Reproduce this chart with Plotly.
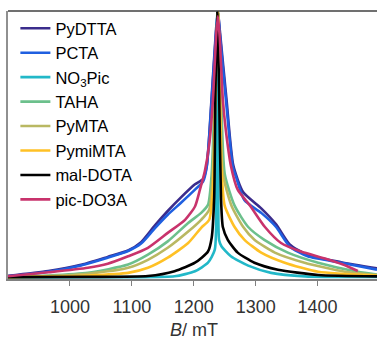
import plotly.graph_objects as go

names = ["PyDTTA", "PCTA", "NO<sub>3</sub>Pic", "TAHA", "PyMTA", "PymiMTA", "mal-DOTA", "pic-DO3A"]
colors = ["#3b2c8c", "#1f5fe0", "#22b8c8", "#6cc08c", "#b9b862", "#ffc125", "#000000", "#c8336c"]

pydtta_B = [900, 965, 1016, 1061, 1094, 1115, 1137, 1158, 1179, 1202, 1215, 1221, 1229, 1236, 1239, 1242, 1253, 1264, 1280, 1309, 1333, 1355, 1384, 1438, 1496]
pydtta_I = [0.007, 0.025, 0.047, 0.078, 0.102, 0.133, 0.195, 0.250, 0.300, 0.350, 0.370, 0.420, 0.680, 0.930, 1.000, 0.930, 0.667, 0.420, 0.320, 0.260, 0.200, 0.125, 0.085, 0.058, 0.035]

pcta_B = [900, 965, 1016, 1061, 1094, 1115, 1137, 1158, 1179, 1202, 1215, 1221, 1229, 1236, 1239, 1242, 1252, 1263, 1268, 1282, 1309, 1333, 1355, 1384, 1438, 1496]
pcta_I = [0.005, 0.022, 0.045, 0.075, 0.100, 0.128, 0.185, 0.236, 0.280, 0.330, 0.360, 0.416, 0.667, 0.918, 1.000, 0.918, 0.667, 0.416, 0.380, 0.290, 0.243, 0.190, 0.117, 0.080, 0.056, 0.030]

no3pic_B = [900, 1100, 1169, 1202, 1223, 1234, 1236, 1238, 1240, 1241, 1245, 1260, 1288, 1325, 1380, 1496]
no3pic_I = [0.001, 0.002, 0.005, 0.024, 0.056, 0.105, 0.500, 1.000, 0.500, 0.140, 0.117, 0.080, 0.045, 0.018, 0.005, 0.003]

taha_B = [900, 965, 1029, 1094, 1126, 1158, 1191, 1212, 1223, 1229, 1234, 1239, 1244, 1250, 1266, 1288, 1314, 1352, 1401, 1465, 1496]
taha_I = [0.003, 0.008, 0.018, 0.049, 0.086, 0.136, 0.205, 0.243, 0.273, 0.390, 0.700, 1.000, 0.700, 0.390, 0.270, 0.190, 0.142, 0.094, 0.056, 0.022, 0.012]

pymta_B = [900, 965, 1029, 1094, 1126, 1158, 1191, 1212, 1225, 1231, 1235, 1239, 1243, 1247, 1261, 1280, 1298, 1331, 1379, 1444, 1496]
pymta_I = [0.002, 0.006, 0.015, 0.037, 0.067, 0.112, 0.173, 0.217, 0.255, 0.400, 0.700, 1.000, 0.700, 0.390, 0.270, 0.190, 0.142, 0.094, 0.056, 0.022, 0.010]

pymimta_B = [900, 965, 1029, 1094, 1126, 1158, 1191, 1212, 1225, 1231, 1235, 1239, 1242, 1245, 1250, 1266, 1282, 1309, 1347, 1401, 1496]
pymimta_I = [0.002, 0.004, 0.008, 0.018, 0.037, 0.075, 0.130, 0.187, 0.217, 0.330, 0.700, 1.000, 0.700, 0.400, 0.270, 0.190, 0.142, 0.094, 0.056, 0.022, 0.008]

maldota_B = [900, 1029, 1126, 1169, 1202, 1223, 1229, 1233, 1235, 1238, 1241, 1244, 1247, 1255, 1271, 1298, 1336, 1401, 1496]
maldota_I = [0.002, 0.003, 0.006, 0.024, 0.056, 0.098, 0.150, 0.300, 0.700, 1.000, 0.700, 0.300, 0.190, 0.142, 0.094, 0.056, 0.030, 0.010, 0.005]

picdo3a_B = [900, 965, 1029, 1061, 1094, 1126, 1158, 1186, 1202, 1210, 1218, 1225, 1231, 1236, 1239, 1242, 1247, 1252, 1260, 1271, 1291, 1315, 1341, 1373, 1412, 1440, 1465]
picdo3a_I = [0.005, 0.020, 0.037, 0.052, 0.080, 0.112, 0.168, 0.217, 0.267, 0.330, 0.400, 0.500, 0.667, 0.900, 0.980, 0.900, 0.667, 0.550, 0.420, 0.330, 0.270, 0.190, 0.130, 0.098, 0.072, 0.050, 0.025]

xs = [pydtta_B, pcta_B, no3pic_B, taha_B, pymta_B, pymimta_B, maldota_B, picdo3a_B]
ys = [pydtta_I, pcta_I, no3pic_I, taha_I, pymta_I, pymimta_I, maldota_I, picdo3a_I]

tick_vals = [1000, 1100, 1200, 1300, 1400]
x_title = "<i>B</i>/ mT"

fig = go.Figure()
for n, c, x, y in zip(names, colors, xs, ys):
    fig.add_trace(go.Scatter(x=x, y=y, name=n, mode="lines",
                             line=dict(color=c, width=2.6, shape="spline", smoothing=0.6)))

fig.update_layout(
    width=377, height=339,
    margin=dict(l=8, r=0, t=11, b=60),
    plot_bgcolor="white", paper_bgcolor="white",
    font=dict(family="Liberation Sans, Arial, sans-serif", size=18, color="#333333"),
    showlegend=True,
    legend=dict(x=0.02, y=1.0, xanchor="left", yanchor="top",
                bgcolor="rgba(0,0,0,0)", font=dict(size=16.5, color="#000000"),
                tracegroupgap=0),
    xaxis=dict(range=[900, 1496], tickvals=tick_vals, ticks="outside", ticklen=5,
               tickcolor="#808080", showline=True, linecolor="#808080", linewidth=1.5,
               showgrid=False, zeroline=False, ticklabelstandoff=6, automargin=False),
    yaxis=dict(range=[-0.005, 1.0], showticklabels=False, ticks="", showgrid=False,
               zeroline=False, showline=True, linecolor="#909090", linewidth=2),
    shapes=[dict(type="line", xref="paper", yref="paper", x0=0, x1=1, y0=1, y1=1,
                 line=dict(color="#404040", width=1.5))],
    annotations=[dict(text=x_title, xref="paper", yref="paper", x=0.505, y=-0.19,
                      xanchor="center", yanchor="middle", showarrow=False,
                      font=dict(size=18, color="#333333"))],
)

fig.write_html("out.html")
